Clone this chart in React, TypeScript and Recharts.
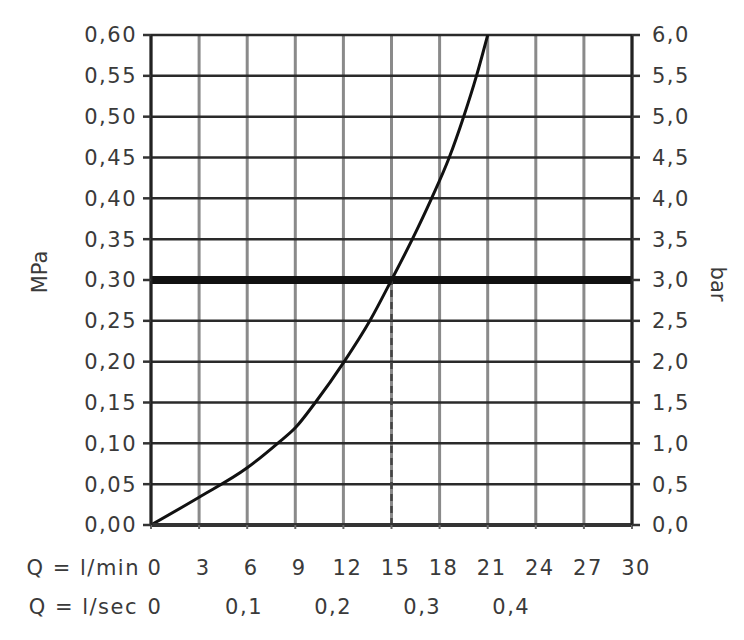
import {
  LineChart,
  Line,
  XAxis,
  YAxis,
  CartesianGrid,
  ReferenceLine,
} from "recharts"

// flow (l/min) vs pressure (MPa)
const flowLpm = [0, 3, 6, 7.9, 9, 10.25, 12.05, 13.65, 15, 16.3, 17.5, 18.6, 19.5, 20.3, 21]
const pressureMpa = [0, 0.034, 0.07, 0.1, 0.119, 0.15, 0.2, 0.25, 0.3, 0.35, 0.4, 0.45, 0.5, 0.55, 0.6]

const lpmTicks = [0, 3, 6, 9, 12, 15, 18, 21, 24, 27, 30]
const lpsTicks = [0, 0.1, 0.2, 0.3, 0.4]
const mpaTicks = [0, 0.05, 0.1, 0.15, 0.2, 0.25, 0.3, 0.35, 0.4, 0.45, 0.5, 0.55, 0.6]
const barTicks = [0, 0.5, 1, 1.5, 2, 2.5, 3, 3.5, 4, 4.5, 5, 5.5, 6]

const workingPressure = 0.3
const workingFlow = 15

const data = flowLpm.map((q, i) => ({ q, p: pressureMpa[i] }))

const FONT = "'DejaVu Sans', sans-serif"
const textStyle = { fontFamily: FONT, fontSize: 21, fill: "#3a3a3a", letterSpacing: 1.5 }

const comma = (v: number, digits: number) => v.toFixed(digits).replace(".", ",")

function MinTick(props: any) {
  const { x, y, payload, index } = props
  return (
    <g>
      <text x={x + 4} y={y + 46} textAnchor="middle" style={textStyle}>
        {payload.value}
      </text>
      {index === 0 && (
        <text x={x - 11} y={y + 46} textAnchor="end" style={textStyle}>
          Q = l/min
        </text>
      )}
    </g>
  )
}

function SecTick(props: any) {
  const { x, y, payload, index } = props
  return (
    <g>
      <text x={x + 4} y={y + 49} textAnchor="middle" style={textStyle}>
        {payload.value === 0 ? "0" : comma(payload.value, 1)}
      </text>
      {index === 0 && (
        <text x={x - 13} y={y + 49} textAnchor="end" style={textStyle}>
          Q = l/sec
        </text>
      )}
    </g>
  )
}

export default function App() {
  return (
    <div style={{ width: 728, height: 624 }}>
      <LineChart
        width={728}
        height={624}
        data={data}
        margin={{ top: 27, right: 10, bottom: 27, left: 10 }}
      >
        <CartesianGrid
          xAxisId="min"
          yAxisId="mpa"
          horizontal={false}
          stroke="#8a8a8a"
          strokeWidth={3}
        />
        <CartesianGrid
          xAxisId="min"
          yAxisId="mpa"
          vertical={false}
          stroke="#2a2a2a"
          strokeWidth={2.5}
        />
        <XAxis
          xAxisId="min"
          dataKey="q"
          type="number"
          domain={[0, 30]}
          allowDataOverflow
          ticks={lpmTicks}
          interval={0}
          height={40}
          tickSize={4}
          tickMargin={0}
          axisLine={{ stroke: "#333", strokeWidth: 4 }}
          tickLine={{ stroke: "#666", strokeWidth: 2 }}
          tick={<MinTick />}
        />
        <XAxis
          xAxisId="sec"
          dataKey={(d: any) => d.q / 60}
          type="number"
          domain={[0, 0.54]}
          allowDataOverflow
          ticks={lpsTicks}
          interval={0}
          height={40}
          tickSize={0}
          tickMargin={0}
          axisLine={false}
          tickLine={false}
          tick={<SecTick />}
        />
        <YAxis
          yAxisId="mpa"
          type="number"
          domain={[0, 0.6]}
          allowDataOverflow
          ticks={mpaTicks}
          interval={0}
          width={133}
          tickSize={8}
          tickMargin={6}
          axisLine={{ stroke: "#222", strokeWidth: 3 }}
          tickLine={{ stroke: "#333", strokeWidth: 2.5 }}
          tick={textStyle}
          tickFormatter={(v) => comma(Number(v), 2)}
          label={{
            value: "MPa",
            angle: -90,
            position: "insideLeft",
            offset: 22,
            dy: -8,
            style: { ...textStyle, textAnchor: "middle", letterSpacing: 0 },
          }}
        />
        <YAxis
          yAxisId="bar"
          orientation="right"
          type="number"
          domain={[0, 6]}
          allowDataOverflow
          ticks={barTicks}
          interval={0}
          width={94}
          tickSize={8}
          tickMargin={12}
          axisLine={{ stroke: "#222", strokeWidth: 3 }}
          tickLine={{ stroke: "#333", strokeWidth: 2.5 }}
          tick={{ ...textStyle, textAnchor: "start" }}
          tickFormatter={(v) => comma(Number(v), 1)}
          label={{
            value: "bar",
            angle: 90,
            position: "insideRight",
            offset: 8,
            dy: 4,
            style: { ...textStyle, textAnchor: "middle", letterSpacing: 0 },
          }}
        />
        <ReferenceLine
          xAxisId="min"
          yAxisId="mpa"
          y={workingPressure}
          stroke="#111"
          strokeWidth={8}
        />
        <ReferenceLine
          xAxisId="min"
          yAxisId="mpa"
          segment={[
            { x: workingFlow, y: 0 },
            { x: workingFlow, y: workingPressure },
          ]}
          stroke="#444"
          strokeWidth={2.5}
          strokeDasharray="7 5"
        />
        <Line
          xAxisId="min"
          yAxisId="mpa"
          dataKey="p"
          type="monotone"
          stroke="#111"
          strokeWidth={3}
          dot={false}
          isAnimationActive={false}
        />
      </LineChart>
    </div>
  )
}
